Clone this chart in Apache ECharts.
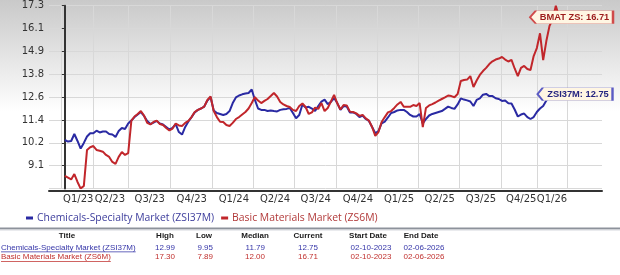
<!DOCTYPE html>
<html><head><meta charset="utf-8">
<script src="https://cdn.jsdelivr.net/npm/echarts@6/dist/echarts.min.js"></script>
<style>html,body{margin:0;padding:0;background:#fff}#c{width:620px;height:275px}</style>
</head><body><div id="c"></div><script>
// ---- data ----
const startDate = '2023-02-10';           // first weekly sample; one sample every 7 days
const chemName = 'Chemicals-Specialty Market (ZSI37M)';
const basicName = 'Basic Materials Market (ZS6M)';
const chemTag = 'ZSI37M';
const basicTag = 'BMAT ZS';
const chemValues = [10.39,10.31,10.34,10.70,10.34,9.95,10.24,10.57,10.74,10.74,10.87,10.78,10.83,10.83,10.70,10.67,10.55,10.85,11.01,10.96,
11.24,11.39,11.57,11.70,11.83,11.63,11.37,11.21,11.29,11.37,11.24,11.19,11.06,10.93,11.01,11.21,10.80,10.67,11.06,11.34,
11.57,11.81,11.94,12.01,12.11,12.42,12.60,11.91,11.78,11.73,11.68,11.73,11.88,12.29,12.58,12.68,12.74,12.78,12.81,12.99,
12.45,12.01,11.94,11.94,11.88,11.91,11.88,11.86,11.94,11.97,11.99,12.04,11.78,11.51,11.68,12.22,12.06,12.10,12.01,11.88,
12.14,12.37,12.47,12.24,12.35,12.55,12.29,11.94,12.14,12.11,11.81,11.81,11.73,11.57,11.65,11.47,11.37,11.06,10.74,10.85,
11.24,11.34,11.55,11.78,11.83,11.91,11.94,11.94,11.83,11.68,11.60,11.60,11.73,11.24,11.47,11.65,11.73,11.78,11.83,11.88,
11.99,12.11,12.04,11.99,12.22,12.53,12.47,12.43,12.37,12.14,12.45,12.53,12.72,12.76,12.65,12.65,12.54,12.50,12.40,12.42,
12.28,12.27,11.96,11.60,11.70,11.75,11.57,11.47,11.57,11.83,12.01,12.14,12.42,12.60,12.70,12.73,12.75];
const basicValues = [8.54,8.45,8.36,8.64,8.23,7.89,8.03,9.88,10.02,10.08,9.88,9.84,9.79,9.62,9.52,9.26,9.16,9.52,9.77,9.62,
9.71,11.39,11.60,11.73,11.88,11.65,11.27,11.19,11.32,11.39,11.21,11.16,11.01,10.88,10.98,11.24,11.14,11.11,11.27,11.37,
11.57,11.83,11.94,12.01,12.11,12.45,12.63,11.88,11.57,11.33,11.32,11.16,11.11,11.27,11.47,11.57,11.70,11.83,12.01,12.29,
12.60,12.42,12.29,12.40,12.50,12.65,12.81,12.63,12.35,12.22,12.14,12.09,11.94,11.88,12.14,12.27,12.09,11.73,11.81,12.06,
11.99,12.29,11.88,12.04,12.37,12.71,12.28,11.96,12.19,12.17,11.85,11.83,11.76,11.63,11.68,11.50,11.39,11.06,10.60,10.80,
11.32,11.57,11.81,11.88,12.04,12.22,12.35,12.10,12.10,12.10,12.19,12.14,12.29,11.05,12.04,12.17,12.24,12.32,12.42,12.50,
12.58,12.68,12.65,12.59,12.76,13.43,13.48,13.50,13.68,13.12,13.45,13.74,13.94,14.10,14.30,14.44,14.53,14.58,14.66,14.53,
14.43,14.51,14.07,13.68,14.10,14.20,14.04,13.99,14.71,15.12,15.88,14.50,15.48,16.26,16.59,17.30,16.71];
const gridDates = ['2023-02-01','2023-04-13','2023-07-01','2023-10-01','2024-01-01','2024-04-01','2024-07-01',
  '2024-10-01','2025-01-01','2025-04-01','2025-07-01','2025-10-01','2025-12-19','2026-02-24'];
const labelDates = ['2023-02-06','2023-04-17','2023-07-14','2023-10-15','2024-01-16','2024-04-16','2024-07-15',
  '2024-10-16','2025-01-15','2025-04-15','2025-07-15','2025-10-12','2025-12-19'];
const quarterLabels = ['Q1/23','Q2/23','Q3/23','Q4/23','Q1/24','Q2/24','Q3/24','Q4/24','Q1/25','Q2/25','Q3/25','Q4/25','Q1/26'];
const axisStartDate = '2023-01-06', axisEndDate = '2026-05-12';
const yMin = 7.89, yMax = 17.30, ySteps = 8;
// summary table
const tableHeaders = ['Title','High','Low','Median','Current','Start Date','End Date'];
const tableTitles = [chemName, basicName];
const tableHigh = ['12.99','17.30'];
const tableLow = ['9.95','7.89'];
const tableMedian = ['11.79','12.00'];
const tableCurrent = ['12.75','16.71'];
const tableStart = ['02-10-2023','02-10-2023'];
const tableEnd = ['02-06-2026','02-06-2026'];

// ---- build ----
const DAY = 864e5;
const t0 = Date.parse(startDate);
const dayOf = d => (Date.parse(d) - t0) / DAY;
const chemData = chemValues.map((v, i) => [i * 7, v]);
const basicData = basicValues.map((v, i) => [i * 7, v]);
const tickDays = gridDates.map(dayOf);
const labelDays = labelDates.map(dayOf);

const BLUE = '#2a2aa3', RED = '#c1262b';
const FONT = 'DejaVu Sans';
const TF = '"Liberation Sans"';

const measure = (txt, font) => { const c = document.createElement('canvas').getContext('2d'); c.font = font; return c.measureText(txt).width; };

const graphics = [
  { type: 'rect', z: -100, silent: true, shape: { x: 0, y: 0, width: 620, height: 112 },
    style: { fill: new echarts.graphic.LinearGradient(0, 0, 0, 1, [{ offset: 0, color: '#c9c9c9' }, { offset: 1, color: '#ffffff' }]) } },
  { type: 'rect', silent: true, shape: { x: 0, y: 227.5, width: 620, height: 2 }, style: { fill: '#8d929b' } },
  { type: 'rect', silent: true, shape: { x: 0, y: 229.5, width: 620, height: 1 }, style: { fill: '#d5d8de' } }
];
const hdrCenters = [67, 165, 204, 255, 308, 368, 421];
tableHeaders.forEach((h, k) => graphics.push({ type: 'text', silent: true, x: hdrCenters[k], y: 236,
  style: { text: h, fill: '#1a1a1a', font: 'bold 8px ' + TF, align: 'center', verticalAlign: 'middle' } }));
const rowY = [247.5, 257];
const rowColor = ['#3535a8', '#c0302e'];
const numRight = [175, 213, 265, 318];
const dateCenters = [371, 424];
[0, 1].forEach(r => {
  const f = '8px ' + TF;
  graphics.push({ type: 'text', silent: true, x: 1, y: rowY[r], style: { text: tableTitles[r], fill: rowColor[r], font: f, align: 'left', verticalAlign: 'middle' } });
  graphics.push({ type: 'rect', silent: true, shape: { x: 1, y: rowY[r] + 4, width: measure(tableTitles[r], f), height: 0.8 }, style: { fill: rowColor[r] } });
  [tableHigh[r], tableLow[r], tableMedian[r], tableCurrent[r]].forEach((t, k) =>
    graphics.push({ type: 'text', silent: true, x: numRight[k], y: rowY[r], style: { text: t, fill: rowColor[r], font: f, align: 'right', verticalAlign: 'middle' } }));
  [tableStart[r], tableEnd[r]].forEach((t, k) =>
    graphics.push({ type: 'text', silent: true, x: dateCenters[k], y: rowY[r], style: { text: t, fill: rowColor[r], font: f, align: 'center', verticalAlign: 'middle' } }));
});

function tag(name, data, txtColor, border, width, offX) {
  const last = data[data.length - 1];
  return {
    symbol: 'path://M0,7L7,0L100,0L100,14L7,14Z', symbolKeepAspect: false,
    symbolSize: [width, 13], symbolOffset: [offX, 0],
    itemStyle: { color: '#fff6e3', borderColor: border, borderWidth: 1 },
    label: { show: true, position: 'inside', offset: [3, 0.5], color: txtColor, fontSize: 9.3, fontWeight: 'bold', fontFamily: 'Liberation Sans',
      formatter: name + ': ' + last[1].toFixed(2) },
    data: [{ coord: last, value: last[1] }]
  };
}

const chart = echarts.init(document.getElementById('c'), null, { renderer: 'canvas' });
chart.setOption({
  animation: false,
  backgroundColor: '#ffffff',
  textStyle: { fontFamily: FONT },
  grid: { left: 49, top: 5.7, width: 553, height: 182.9, containLabel: false },
  legend: {
    left: 21, top: 208, icon: 'rect', itemWidth: 7, itemHeight: 3, itemGap: 7,
    textStyle: { fontFamily: 'Open Sans', fontSize: 10.4, padding: [0, 0, 0, -1] },
    data: [{ name: chemName, textStyle: { color: '#3d3d9c' } }, { name: basicName, textStyle: { color: '#b23a3a' } }]
  },
  xAxis: {
    type: 'value', min: dayOf(axisStartDate), max: dayOf(axisEndDate), offset: 2,
    axisLine: { show: true, onZero: false, lineStyle: { color: '#333', width: 2 } },
    axisTick: { show: false, customValues: tickDays },
    splitLine: { show: true, lineStyle: { color: '#d8d8d8', width: 1 } },
    axisLabel: { customValues: labelDays, hideOverlap: false, showMinLabel: true, showMaxLabel: true, align: 'left', margin: 4,
      color: '#333', fontSize: 10, fontFamily: FONT,
      formatter: v => { const k = labelDays.findIndex(t => Math.abs(t - v) < 0.5); return k >= 0 ? quarterLabels[k] : ''; } }
  },
  yAxis: {
    type: 'value', min: yMin, max: yMax, interval: (yMax - yMin) / ySteps,
    axisLine: { show: true, lineStyle: { color: '#333', width: 2 } },
    axisTick: { show: true, length: 3, lineStyle: { color: '#333' } },
    splitLine: { show: true, lineStyle: { color: '#d8d8d8', width: 1 } },
    axisLabel: { showMinLabel: false, margin: 5, color: '#333', fontSize: 10, fontFamily: FONT, formatter: v => v.toFixed(1) }
  },
  series: [
    { name: chemName, type: 'line', data: chemData, showSymbol: false, color: BLUE, lineStyle: { width: 2, color: BLUE },
      markPoint: tag(chemTag, chemData, '#252580', '#5b5bc4', 75, 16) },
    { name: basicName, type: 'line', data: basicData, showSymbol: false, color: RED, lineStyle: { width: 2, color: RED },
      markPoint: tag(basicTag, basicData, '#9c1c1c', '#d04a4a', 83, 12.5) }
  ],
  graphic: { elements: graphics }
});
</script></body></html>
